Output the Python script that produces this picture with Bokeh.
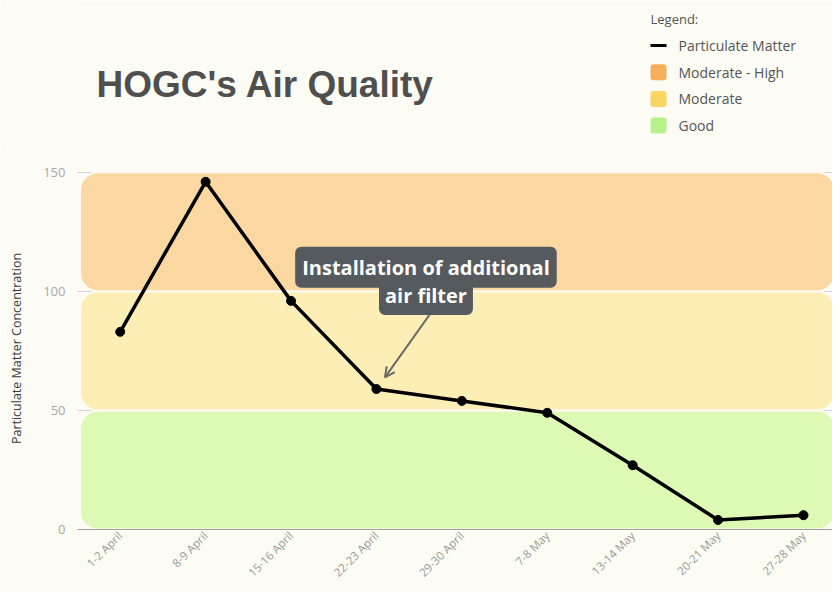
import math
from bokeh.plotting import figure
from bokeh.layouts import column
from bokeh.models import (Range1d, FixedTicker, Label, Arrow, OpenHead)
from bokeh.embed import file_html
from bokeh.resources import INLINE

# ---- data ----
periods = ["1-2 April", "8-9 April", "15-16 April", "22-23 April", "29-30 April",
           "7-8 May", "13-14 May", "20-21 May", "27-28 May"]
pm_values = [83, 146, 96, 59, 54, 49, 27, 4, 6]

band_names = ["Good", "Moderate", "Moderate - High"]
band_low = [0, 50, 100]
band_high = [50, 100, 150]
band_fill = ["#def9b4", "#fdeeb6", "#fbd8a2"]
swatch_colors = ["#b6f18a", "#f8d65f", "#f5ae5c"]
y_ticks = [0, 50, 100, 150]

legend_labels = ["Particulate Matter"] + list(reversed(band_names))
legend_swatches = list(reversed(swatch_colors))

BG = "#fcfcf4"
W = 832
LEFT = 77
HEAD_H = 144
MAIN_H = 448

x = list(range(len(periods)))

# ---------- header (title + legend) ----------
head = figure(width=W, height=HEAD_H, x_range=Range1d(LEFT, W), y_range=Range1d(0, HEAD_H),
              output_backend="svg", toolbar_location=None,
              x_axis_type=None, y_axis_type=None,
              min_border_left=LEFT, min_border_right=0,
              min_border_top=0, min_border_bottom=0,
              background_fill_color=BG, border_fill_color=BG, outline_line_color=None)
head.grid.visible = False

head.add_layout(Label(x=96, y=60, text="HOGC's Air Quality",
                      text_font="Liberation Sans", text_font_style="bold",
                      text_font_size="37px", text_color="#4f4f4f",
                      text_baseline="alphabetic", text_align="left"))

# legend (drawn by hand so the swatches can be rounded)
LX, LTOP, STEP, SW = 650, 126, 26.7, 16
head.add_layout(Label(x=LX, y=LTOP, text="Legend:", text_font="Open Sans",
                      text_font_size="13px", text_color="#555555",
                      text_baseline="middle", text_align="left"))
row_y = [LTOP - 27 - i * STEP for i in range(len(legend_labels))]
head.segment(x0=[LX], y0=[row_y[0]], x1=[LX + SW], y1=[row_y[0]],
             line_color="black", line_width=3)
head.quad(left=[LX] * 3, right=[LX + SW] * 3,
          bottom=[y - SW / 2 for y in row_y[1:]], top=[y + SW / 2 for y in row_y[1:]],
          fill_color=legend_swatches, line_color=None, border_radius=3)
head.text(x=[LX + 28] * len(legend_labels), y=row_y, text=legend_labels,
          text_font=dict(value="Open Sans"), text_font_size="14px", text_color="#555555",
          text_baseline="middle", text_align="left")

# ---------- main chart ----------
p = figure(width=W, height=MAIN_H,
           x_range=Range1d(-0.5, 8.34), y_range=Range1d(0, 152),
           output_backend="svg", toolbar_location=None,
           min_border_left=LEFT, min_border_right=0, min_border_top=23, min_border_bottom=63,
           background_fill_color=BG, border_fill_color=BG, outline_line_color=None)

p.quad(left=-0.47, right=8.37, bottom=band_low, top=band_high,
       fill_color=band_fill, line_color=BG, line_width=2, border_radius=18)

p.line(x, pm_values, line_color="black", line_width=3.5)
p.scatter(x, pm_values, size=9, fill_color="black", line_color="black")

p.xgrid.visible = False
p.ygrid.ticker = FixedTicker(ticks=y_ticks)
p.ygrid.grid_line_color = "#d4d4d4"
p.ygrid.grid_line_width = 1

p.yaxis.ticker = FixedTicker(ticks=y_ticks)
p.yaxis.axis_line_color = None
p.yaxis.major_tick_line_color = None
p.yaxis.minor_tick_line_color = None
p.yaxis.major_tick_out = 0
p.yaxis.major_tick_in = 0
p.yaxis.major_label_text_color = "#a8a8a8"
p.yaxis.major_label_text_font = "Open Sans"
p.yaxis.major_label_text_font_size = "13px"
p.yaxis.major_label_standoff = 12
p.yaxis.axis_label = "Particulate Matter Concentration"
p.yaxis.axis_label_text_font = "Open Sans"
p.yaxis.axis_label_text_font_style = "normal"
p.yaxis.axis_label_text_font_size = "12.5px"
p.yaxis.axis_label_text_color = "#3a3a3a"
p.yaxis.axis_label_standoff = 15

p.xaxis.ticker = FixedTicker(ticks=x)
p.xaxis.major_label_overrides = {i: lab for i, lab in zip(x, periods)}
p.xaxis.major_label_orientation = math.pi / 4
p.xaxis.axis_line_color = "#a0a0a0"
p.xaxis.major_tick_line_color = None
p.xaxis.minor_tick_line_color = None
p.xaxis.major_tick_out = 0
p.xaxis.major_tick_in = 0
p.xaxis.major_label_text_color = "#999999"
p.xaxis.major_label_text_font = "Open Sans"
p.xaxis.major_label_text_font_size = "11.5px"
p.xaxis.major_label_standoff = 4

# annotation
p.add_layout(Arrow(x_start=3.65, y_start=91.6, x_end=3.10, y_end=63.9,
                   line_color="#6a6a6a", line_width=2,
                   end=OpenHead(size=10, line_color="#6a6a6a", line_width=2)))
p.add_layout(Label(x=3.58, y=98.3, text="air filter",
                   text_font="Open Sans", text_font_style="bold", text_font_size="20px",
                   text_color="white", text_align="center", text_baseline="middle",
                   background_fill_color="#555a5e", border_radius=6, padding=6))
p.add_layout(Label(x=3.58, y=110.1, text="Installation of additional",
                   text_font="Open Sans", text_font_style="bold", text_font_size="20px",
                   text_color="white", text_align="center", text_baseline="middle",
                   background_fill_color="#555a5e", border_radius=6, padding=7))

layout = column(head, p, spacing=0)
open("out.html", "w").write(file_html(layout, INLINE))
